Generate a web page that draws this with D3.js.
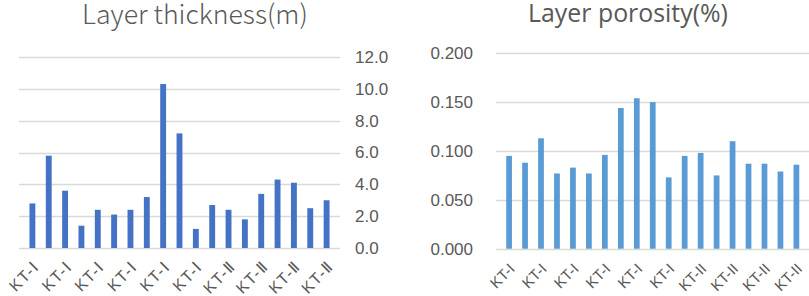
<!DOCTYPE html>
<html>
<head>
<meta charset="utf-8">
<script src="https://cdn.jsdelivr.net/npm/d3@7"></script>
<style>
  body { margin: 0; background: #fff; }
  svg { display: block; }
</style>
</head>
<body>
<div id="chart"></div>
<script>
// categories (19 layers), every other one gets a label on the axis
const thicknessCats = ["KT-Ⅰ","KT-Ⅰ","KT-Ⅰ","KT-Ⅰ","KT-Ⅰ","KT-Ⅰ","KT-Ⅰ","KT-Ⅰ","KT-Ⅰ","KT-Ⅰ","KT-Ⅰ",
                       "KT-Ⅱ","KT-Ⅱ","KT-Ⅱ","KT-Ⅱ","KT-Ⅱ","KT-Ⅱ","KT-Ⅱ","KT-Ⅱ"];
const porosityCats = ["KT-I","KT-I","KT-I","KT-I","KT-I","KT-I","KT-I","KT-I","KT-I","KT-I","KT-I",
                      "KT-II","KT-II","KT-II","KT-II","KT-II","KT-II","KT-II","KT-II"];

const thickness = [2.8, 5.8, 3.6, 1.4, 2.4, 2.1, 2.4, 3.2, 10.3, 7.2, 1.2, 2.7, 2.4, 1.8, 3.4, 4.3, 4.1, 2.5, 3.0];
const porosity = [0.095, 0.088, 0.113, 0.077, 0.083, 0.077, 0.096, 0.144, 0.154, 0.150,
                  0.073, 0.095, 0.098, 0.075, 0.110, 0.087, 0.087, 0.079, 0.086];

const thicknessTicks = [0, 2, 4, 6, 8, 10, 12];
const porosityTicks = [0, 0.05, 0.1, 0.15, 0.2];

const W = 809, H = 296;
const textColor = "#595959";
const gridColor = "#d9d9d9";

const svg = d3.select("#chart").append("svg")
    .attr("width", W)
    .attr("height", H);

function drawChart(opts) {
    const idx = d3.range(opts.values.length);

    const x = d3.scaleBand()
        .domain(idx)
        .range(opts.xRange)
        .padding(0.64);

    const y = d3.scaleLinear()
        .domain(opts.yDomain)
        .range(opts.yRange);

    const g = svg.append("g").attr("font-family", opts.font);

    // gridlines
    g.selectAll(".grid")
        .data(opts.ticks)
        .enter()
        .append("line")
        .attr("x1", opts.xRange[0])
        .attr("x2", opts.xRange[1])
        .attr("y1", d => Math.round(y(d)) + 0.5)
        .attr("y2", d => Math.round(y(d)) + 0.5)
        .attr("stroke", gridColor)
        .attr("stroke-width", 1.3);

    // value axis, no line, just labels
    const yAxis = opts.axisSide === "right"
        ? d3.axisRight(y).tickSize(0).tickPadding(opts.tickPad)
        : d3.axisLeft(y).tickSize(0).tickPadding(opts.tickPad);
    const ya = g.append("g")
        .attr("transform", `translate(${opts.axisX},0)`)
        .call(yAxis.tickValues(opts.ticks).tickFormat(d3.format(opts.fmt)));
    ya.select(".domain").remove();
    ya.selectAll("text")
        .attr("fill", textColor)
        .style("font-size", opts.tickSize + "px")
        .style("font-weight", opts.weight);

    // bars
    g.selectAll(".bar")
        .data(opts.values)
        .enter()
        .append("rect")
        .attr("x", (d, i) => x(i))
        .attr("y", d => y(d))
        .attr("width", x.bandwidth())
        .attr("height", d => y(0) - y(d))
        .attr("fill", opts.color);

    // category labels, every other one, rotated
    const xa = g.append("g")
        .attr("transform", `translate(0,${opts.labelY})`)
        .call(d3.axisBottom(x)
            .tickSize(0)
            .tickPadding(0)
            .tickValues(idx.filter(i => i % 2 === 0))
            .tickFormat(i => opts.cats[i]));
    xa.select(".domain").remove();
    xa.selectAll("text")
        .attr("fill", textColor)
        .attr("text-anchor", "end")
        .attr("y", 0)
        .attr("dy", "0.35em")
        .attr("transform", `translate(${opts.labelDx},0) rotate(-45)`)
        .style("font-size", opts.labelSize + "px")
        .style("letter-spacing", opts.labelSpacing + "px")
        .style("font-weight", opts.weight);

    // title, scaled so it spans the same width as in the picture
    const title = g.append("text")
        .attr("x", opts.titleX)
        .attr("y", opts.titleY)
        .attr("text-anchor", "middle")
        .attr("fill", textColor)
        .style("font-size", opts.titleSize + "px")
        .style("font-weight", opts.weight)
        .text(opts.title);
    const w = title.node().getComputedTextLength();
    title.style("font-size", (opts.titleSize * opts.titleWidth / w) + "px");
}

drawChart({
    values: thickness,
    cats: thicknessCats,
    xRange: [19, 340],
    yDomain: [0, 12],
    yRange: [248, 57],
    ticks: thicknessTicks,
    fmt: ".1f",
    axisSide: "right",
    axisX: 340,
    tickPad: 15,
    tickSize: 17,
    color: "#4472c4",
    labelY: 264,
    labelDx: 4,
    labelSize: 16,
    labelSpacing: 1.2,
    title: "Layer thickness(m)",
    titleX: 195,
    titleY: 24,
    titleSize: 27,
    titleWidth: 226,
    font: "'Noto Sans CJK SC', 'Noto Sans', sans-serif",
    weight: 300
});

drawChart({
    values: porosity,
    cats: porosityCats,
    xRange: [496, 809.5],
    yDomain: [0, 0.2],
    yRange: [248.7, 53.3],
    ticks: porosityTicks,
    fmt: ".3f",
    axisSide: "left",
    axisX: 496,
    tickPad: 23,
    tickSize: 17,
    color: "#5b9bd5",
    labelY: 266,
    labelDx: 3,
    labelSize: 15,
    labelSpacing: 0,
    title: "Layer porosity(%)",
    titleX: 628,
    titleY: 22,
    titleSize: 24,
    titleWidth: 200,
    font: "'Open Sans', 'Noto Sans', sans-serif",
    weight: 400
});
</script>
</body>
</html>
